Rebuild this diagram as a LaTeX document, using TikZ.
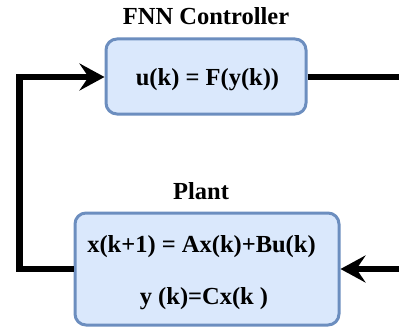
\documentclass[tikz,border=0pt]{standalone}
\usepackage{fontspec}
\setmainfont{Liberation Serif}
\usetikzlibrary{arrows.meta}
\definecolor{boxfill}{HTML}{DAE8FC}
\definecolor{boxline}{HTML}{6C8EBF}
\tikzset{
  block/.style={draw=boxline, fill=boxfill, line width=3pt, rounded corners=11pt,
    inner sep=0pt},
  label/.style={font=\fontsize{24.5}{28}\selectfont\bfseries, inner sep=0pt},
  wire/.style={line width=6.5pt, draw=black},
  head/.style={-{Stealth[length=25pt, width=27pt, inset=9pt]}}
}
\begin{document}
\begin{tikzpicture}[x=1pt, y=-1pt]
  \useasboundingbox (0,0) rectangle (399,329);

  % controller block
  \node[block, minimum width=200pt, minimum height=75pt] (ctrl) at (206,76.5) {};
  \node[label] (ctrltitle) at (206,16) {FNN Controller};
  \node[label] (ctrllaw) at (207.5,80) {u(k) = F(y(k))};

  % plant block
  \node[block, minimum width=264pt, minimum height=112pt] (plant) at (207,269) {};
  \node[label] (planttitle) at (201,191.5) {Plant};
  \node[label] (stateeq) at (201.5,247) {x(k+1) = Ax(k)+Bu(k)};
  \node[label] (outeq) at (204,299) {y (k)=Cx(k )};

  % loose ends of the loop at the right border
  \coordinate (uout) at (400,77);
  \coordinate (uin) at (400,269);

  % feedback loop
  \draw[wire] (ctrl.east |- uout) -- (uout);
  \draw[wire, head] (uin) -- (plant.east |- uin);
  \draw[wire, head] (plant.west |- uin) -- (19.5,269) |- (ctrl.west |- uout);
\end{tikzpicture}
\end{document}
